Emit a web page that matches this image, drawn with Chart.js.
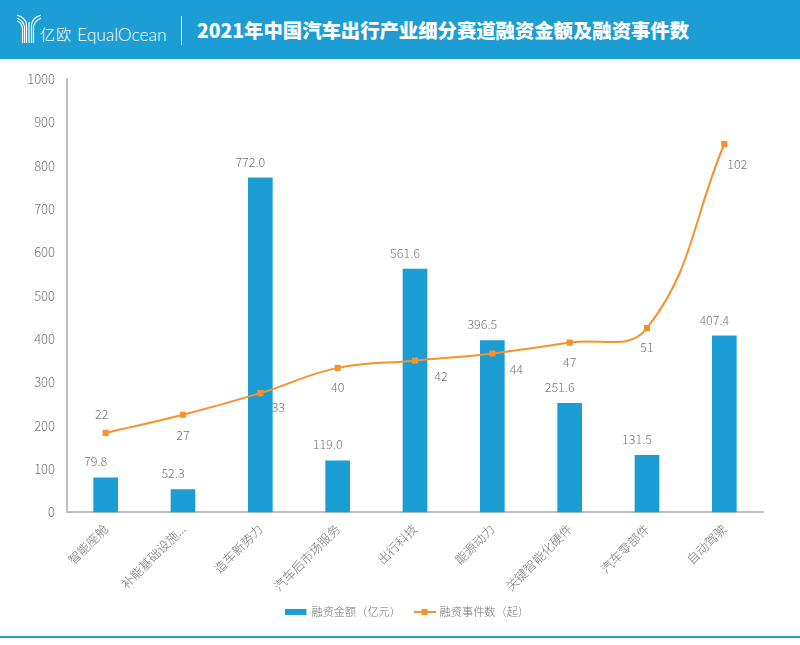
<!DOCTYPE html>
<html>
<head>
<meta charset="utf-8">
<title>2021年中国汽车出行产业细分赛道融资金额及融资事件数</title>
<script src="https://cdn.jsdelivr.net/npm/chart.js@4"></script>
<style>
  html, body { margin: 0; padding: 0; background: #fff; }
  #page { position: relative; width: 800px; height: 645px; overflow: hidden; font-family: "Noto Sans CJK SC", sans-serif; }
  #banner { position: absolute; left: 0; top: 0; width: 800px; height: 59px; background: #1c9dd3; color: #fff; }
  #logo { position: absolute; left: 16px; top: 14px; }
  #cn { position: absolute; left: 40px; top: 23px; font-size: 15px; line-height: 22px; font-weight: 300; letter-spacing: 1px; }
  #en { position: absolute; left: 77px; top: 24px; font-family: Lato, sans-serif; font-size: 17.4px; line-height: 22px; font-weight: 300; }
  #divider { position: absolute; left: 180.5px; top: 16px; width: 1.5px; height: 29px; background: #d5eef8; }
  #title { position: absolute; left: 197px; top: 16px; font-size: 19.35px; line-height: 29px; font-weight: 900; white-space: nowrap; }
  #wrap { position: absolute; left: 0; top: 59px; width: 800px; height: 577px; }
  #rule { position: absolute; left: 0; top: 636px; width: 800px; height: 2px; background: #1c9dd3; }
</style>
</head>
<body>
<div id="page">
  <div id="banner">
    <svg id="logo" width="26" height="31" viewBox="0 0 26 31" fill="none" stroke="#fff" stroke-width="1.2">
      <path d="M1 1 C6 3 10 5 10.500 11 V29"/>
      <path d="M1 4 C5 6 8 8 8.500 13 V29"/>
      <path d="M1 7 C4 8 6.500 10 6.500 15 V29"/>
      <path d="M25 1 C20 3 16 5 15.500 11 V29"/>
      <path d="M25 4 C21 6 18 8 17.500 13 V29"/>
      <path d="M13 8 V29"/>
    </svg>
    <div id="cn">亿欧</div>
    <div id="en">EqualOcean</div>
    <div id="divider"></div>
    <div id="title">2021年中国汽车出行产业细分赛道融资金额及融资事件数</div>
  </div>
  <div id="wrap"><canvas id="chart_funding"></canvas></div>
  <div id="rule"></div>
</div>
<script>
const categories = ['智能座舱', '补能基础设施...', '造车新势力', '汽车后市场服务', '出行科技', '能源动力', '关键智能化硬件', '汽车零部件', '自动驾驶'];
const fundingAmount = [79.8, 52.3, 772.0, 119.0, 561.6, 396.5, 251.6, 131.5, 407.4];
const fundingEvents = [22, 27, 33, 40, 42, 44, 47, 51, 102];

const amountName = '融资金额（亿元）';
const eventsName = '融资事件数（起）';

const blue = '#1b9dd3';
const orange = '#f6922e';
const gray = '#757575';
const fontFamily = '"Noto Sans CJK SC", sans-serif';

// where each event count sits relative to its marker, the source moved them by hand
const eventLabelShift = [[-4, -19], [0, 20], [18, 14], [0, 19], [26, 16], [24, 16], [0, 20], [0, 19], [13, 20]];

function legendSwatch(isLine) {
  const c = document.createElement('canvas');
  c.width = 22;
  c.height = 8;
  const ctx = c.getContext('2d');
  if (isLine) {
    ctx.fillStyle = orange;
    ctx.fillRect(0, 3, 22, 2);
    ctx.fillRect(8, 1, 6, 6);
  } else {
    ctx.fillStyle = blue;
    ctx.fillRect(0, 1, 21, 6);
  }
  return c;
}

const valueLabels = {
  id: 'valueLabels',
  afterDatasetsDraw(chart) {
    const ctx = chart.ctx;
    ctx.save();
    ctx.font = '300 12.5px ' + fontFamily;
    ctx.fillStyle = gray;
    ctx.textAlign = 'center';
    ctx.textBaseline = 'middle';
    chart.getDatasetMeta(0).data.forEach((bar, i) => {
      ctx.fillText(fundingAmount[i].toFixed(1), bar.x - 10, bar.y - 16);
    });
    chart.getDatasetMeta(1).data.forEach((pt, i) => {
      ctx.fillText(String(fundingEvents[i]), pt.x + eventLabelShift[i][0], pt.y + eventLabelShift[i][1]);
    });
    ctx.restore();
  }
};

new Chart(document.getElementById('chart_funding'), {
  type: 'bar',
  data: {
    labels: categories,
    datasets: [
      {
        label: amountName,
        data: fundingAmount,
        backgroundColor: blue,
        barThickness: 24,
        yAxisID: 'y',
        order: 2
      },
      {
        type: 'line',
        label: eventsName,
        data: fundingEvents,
        borderColor: orange,
        backgroundColor: orange,
        borderWidth: 2,
        pointStyle: 'rect',
        pointRadius: 4.3,
        pointBorderWidth: 0,
        tension: 0.42,
        yAxisID: 'y1',
        order: 1
      }
    ]
  },
  options: {
    responsive: true,
    maintainAspectRatio: false,
    animation: false,
    layout: { padding: { top: 20, right: 0, bottom: 8.5, left: 16 } },
    scales: {
      x: {
        afterFit(scale) { scale.height = 80; },
        grid: { display: false, drawTicks: false },
        border: { color: '#bfbfbf', width: 2 },
        ticks: {
          color: gray,
          font: { family: fontFamily, size: 12.5, weight: '300' },
          maxRotation: 45,
          minRotation: 45,
          autoSkip: false,
          padding: 9
        }
      },
      y: {
        min: 0,
        max: 1000,
        afterFit(scale) { scale.width = 51; },
        grid: { display: false, drawTicks: false },
        border: { color: '#bfbfbf', width: 2 },
        ticks: {
          stepSize: 100,
          color: gray,
          padding: 12,
          font: { family: fontFamily, size: 13, weight: '300' },
          callback: (v) => String(v)
        }
      },
      y1: {
        position: 'right',
        min: 0,
        max: 120,
        afterFit(scale) { scale.width = 37; },
        grid: { display: false, drawTicks: false },
        border: { display: false },
        ticks: { display: false }
      }
    },
    plugins: {
      tooltip: { enabled: false },
      legend: {
        position: 'bottom',
        labels: {
          color: gray,
          font: { family: fontFamily, size: 11.2, weight: '300' },
          usePointStyle: true,
          pointStyleWidth: 19,
          padding: 14,
          generateLabels(chart) {
            return chart.data.datasets.map((d, i) => ({
              text: d.label,
              fontColor: gray,
              datasetIndex: i,
              pointStyle: legendSwatch(i === 1),
              lineWidth: 0
            }));
          }
        }
      }
    }
  },
  plugins: [valueLabels]
});
</script>
</body>
</html>
